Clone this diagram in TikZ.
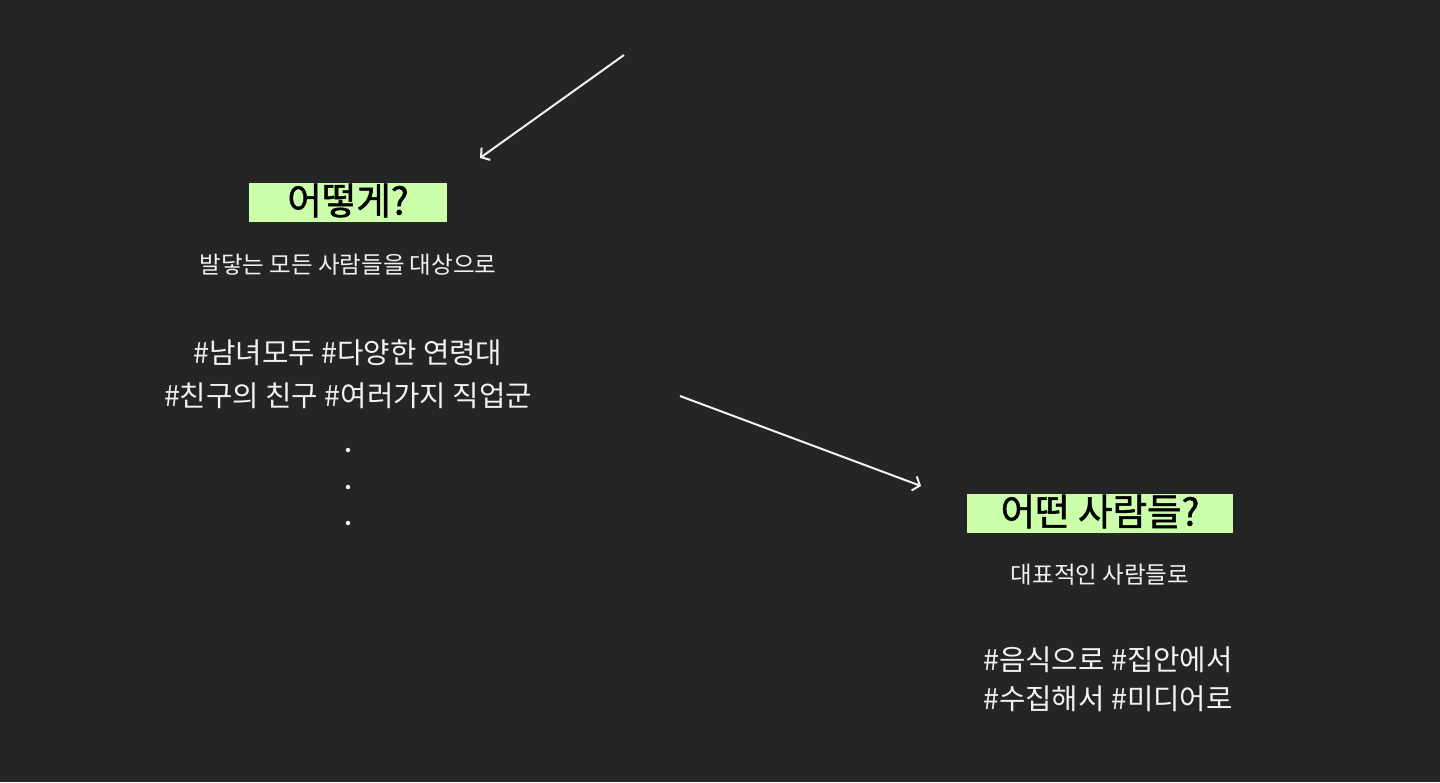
\documentclass[tikz,border=0pt]{standalone}
\usepackage{fontspec}
\usepackage{xcolor}
\usetikzlibrary{arrows.meta}
\newfontfamily\kr{Noto Sans CJK KR}
\newfontfamily\krmid[FakeBold=1.3]{Noto Sans CJK KR}
\definecolor{bgdark}{HTML}{252525}
\definecolor{tagwhite}{HTML}{F2F2F2}
\definecolor{mint}{HTML}{CCFFAA}

\begin{document}
\begin{tikzpicture}[x=1pt, y=-1pt, line width=2pt]
  \tikzset{title/.style={fill=mint, text=black, inner sep=0pt, minimum height=39pt, font=\krmid\fontsize{37.5}{37.5}\selectfont},
           sub/.style={text=tagwhite, inner sep=0pt, font=\kr\fontsize{23.5}{23.5}\selectfont},
           tags/.style={text=tagwhite, inner sep=0pt, align=center, font=\kr\fontsize{28.7}{43}\selectfont},
           dot/.style={circle, fill=tagwhite, inner sep=0pt, minimum size=4.5pt},
           link/.style={draw=tagwhite, -{Straight Barb[length=6pt, width=15pt]}}}

  \useasboundingbox [fill=bgdark] (0, 0) rectangle (1440, 782);

  % left column
  \path (348, 202.5) node [title, minimum width=198pt, text height=27pt, text depth=3pt] (how) {어떻게?};
  \path (348, 265) node [sub] (howsub) {발닿는 모든 사람들을 대상으로};
  \path (348, 374.5) node [tags] (howtags) {\#남녀모두 \#다양한 연령대\\\#친구의 친구 \#여러가지 직업군};
  \foreach \i/\y in {0/450, 1/487, 2/523} {
    \path (348, \y) node [dot] (dot-\i) {};
  }

  % right column
  \path (1100, 513.5) node [title, minimum width=266pt, text height=27pt, text depth=3pt] (who) {어떤 사람들?};
  \path (1100, 575) node [sub] (whosub) {대표적인 사람들로};
  \path (1108, 679) node [tags, font=\kr\fontsize{28.7}{39}\selectfont] (whotags) {\#음식으로 \#집안에서\\\#수집해서 \#미디어로};

  % arrows
  \coordinate (in-start) at (624, 55);
  \coordinate (in-end) at (480, 158);
  \coordinate (mid-start) at (680, 396);
  \coordinate (mid-end) at (921, 486);
  \draw [link] (in-start) -- (in-end);
  \draw [link] (mid-start) -- (mid-end);

\end{tikzpicture}
\end{document}
